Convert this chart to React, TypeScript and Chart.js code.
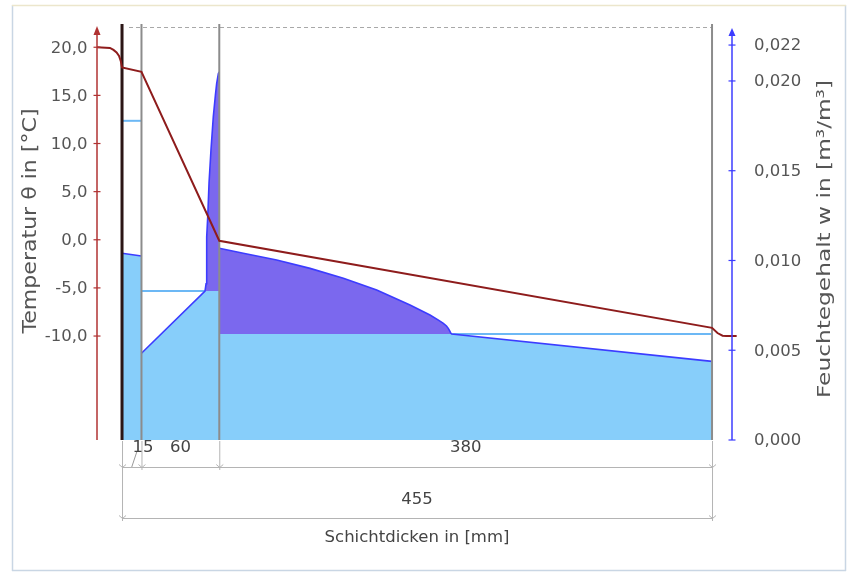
import React, { useEffect, useRef } from "react";
import { Chart, registerables } from "chart.js";

Chart.register(...registerables);

// ---------- Data ----------
// Layer boundaries in mm (foil at 0 mm, then 15 mm, 60 mm, 380 mm)
const layerBounds = [0, 15, 75, 455];
const layerThickness = ["15", "60", "380"];
const totalThickness = "455";

const xMin = -19.3;
const xMax = 470.4;
const tempMin = -20.8;
const tempMax = 22.0;
const wMin = 0;
const wMax = 0.02295;

const tempTicks = [20, 15, 10, 5, 0, -5, -10];
const moistTicks = [0.022, 0.02, 0.015, 0.01, 0.005, 0];

// Temperature profile θ [°C]
const tempX = [-19.3, -9.3, -6.6, -4.2, -2.3, -1.0, 0, 15, 75, 455, 459.2, 463.1, 466, 474];
const tempY = [20.0, 19.93, 19.72, 19.46, 19.1, 18.58, 17.9, 17.45, -0.1, -9.15, -9.69, -9.97, -10.0, -10.0];

// Moisture content w [m³/m³] per layer, with the critical level of each layer
const wL1X = [0, 15];
const wL1 = [0.0104, 0.01025];
const critL1 = 0.01778;

const wL2X = [15, 64.0, 64.8, 65.3, 66.1, 67.1, 68.6, 70.4, 72.0, 73.0, 74.3, 75];
const wL2 = [0.00483, 0.0083, 0.0087, 0.0113, 0.01244, 0.01431, 0.01615, 0.01801, 0.0192, 0.01987, 0.02042, 0.0205];
const critL2 = 0.0083;

const wL3X = [75, 93.5, 119.3, 145, 170.7, 196.4, 222.1, 237.5, 244.0, 247.8, 250.2, 251.6, 252.8, 253.5, 254.3, 455];
const wL3 = [0.01068, 0.0104, 0.01003, 0.00956, 0.00901, 0.00835, 0.00752, 0.00696, 0.00668, 0.0065, 0.00635, 0.00622, 0.00607, 0.00596, 0.0059, 0.00438];
const critL3 = 0.0059;

// ---------- Helpers ----------
const pts = (xs: number[], ys: number[]) => xs.map((x, i) => ({ x, y: ys[i] }));
const lowPts = (xs: number[], ys: number[], c: number) => xs.map((x, i) => ({ x, y: Math.min(ys[i], c) }));
const wetPts = (xs: number[], ys: number[], c: number) =>
  xs.map((x, i) => ({ x, y: ys[i] })).filter((p) => p.y >= c - 1e-9);
// critical level drawn where the moisture stays at or below it
const critPts = (xs: number[], ys: number[], c: number) => {
  const dry = xs.filter((_, i) => ys[i] <= c + 1e-9);
  return [
    { x: dry[0], y: c },
    { x: dry[dry.length - 1] === xs[xs.length - 1] ? xs[xs.length - 1] : dry[dry.length - 1], y: c },
  ];
};

const FONT = "'DejaVu Sans', Verdana, sans-serif";
const LIGHT = "#87cefa";
const WET = "#7b68ee";
const BLUE = "#3c3cff";
const CRIT = "#6cb8f5";
const TRANSP = "rgba(0,0,0,0)";

function line(ctx: CanvasRenderingContext2D, x1: number, y1: number, x2: number, y2: number) {
  ctx.beginPath();
  ctx.moveTo(x1, y1);
  ctx.lineTo(x2, y2);
  ctx.stroke();
}

function rotatedFitted(
  ctx: CanvasRenderingContext2D,
  text: string,
  cx: number,
  cy: number,
  target: number,
  font: string,
  color: string
) {
  ctx.save();
  ctx.translate(cx, cy);
  ctx.rotate(-Math.PI / 2);
  ctx.font = font;
  ctx.fillStyle = color;
  ctx.textAlign = "center";
  ctx.textBaseline = "middle";
  const w = ctx.measureText(text).width;
  ctx.scale(target / w, 1);
  ctx.fillText(text, 0, 0);
  ctx.restore();
}

const overlay = {
  id: "overlay",
  beforeDraw(chart: any) {
    const ctx: CanvasRenderingContext2D = chart.ctx;
    ctx.save();
    ctx.fillStyle = "#ffffff";
    ctx.fillRect(0, 0, chart.width, chart.height);
    ctx.restore();
  },
  beforeDatasetDraw(chart: any, args: any) {
    if (args.index !== 0) return;
    const ctx: CanvasRenderingContext2D = chart.ctx;
    const { top, bottom } = chart.chartArea;
    const x = chart.scales.x;
    ctx.save();
    // dashed top line
    ctx.strokeStyle = "#a8a8a8";
    ctx.lineWidth = 1;
    ctx.setLineDash([4, 3]);
    line(ctx, x.getPixelForValue(layerBounds[0]) + 7, top - 0.5, x.getPixelForValue(layerBounds[layerBounds.length - 1]), top - 0.5);
    ctx.setLineDash([]);
    // layer boundaries
    layerBounds.forEach((b, i) => {
      const px = x.getPixelForValue(b);
      ctx.strokeStyle = i === 0 ? "#2b1616" : "#8c8c8c";
      ctx.lineWidth = i === 0 ? 3 : 2;
      line(ctx, px, top - 4, px, bottom);
    });
    ctx.restore();
  },
  afterDraw(chart: any) {
    const ctx: CanvasRenderingContext2D = chart.ctx;
    const { left, right, top, bottom } = chart.chartArea;
    const x = chart.scales.x;
    const y = chart.scales.y;
    const y2 = chart.scales.y2;
    ctx.save();

    // ---- left axis (temperature) ----
    const tc = "#b03232";
    ctx.strokeStyle = tc;
    ctx.fillStyle = tc;
    ctx.lineWidth = 1.5;
    line(ctx, left, bottom, left, top + 4);
    ctx.beginPath();
    ctx.moveTo(left, top - 2);
    ctx.lineTo(left - 3.5, top + 7);
    ctx.lineTo(left + 3.5, top + 7);
    ctx.closePath();
    ctx.fill();
    ctx.lineWidth = 1.2;
    ctx.font = `16.5px ${FONT}`;
    ctx.textBaseline = "middle";
    ctx.textAlign = "right";
    tempTicks.forEach((t) => {
      const py = y.getPixelForValue(t);
      ctx.strokeStyle = tc;
      line(ctx, left - 3.5, py, left + 3.5, py);
      ctx.fillStyle = "#555555";
      ctx.fillText(t.toFixed(1).replace(".", ","), left - 9.5, py + 1);
    });

    // ---- right axis (moisture) ----
    ctx.strokeStyle = BLUE;
    ctx.fillStyle = BLUE;
    ctx.lineWidth = 1.5;
    line(ctx, right, bottom, right, top + 4);
    ctx.beginPath();
    ctx.moveTo(right, top);
    ctx.lineTo(right - 3.5, top + 8);
    ctx.lineTo(right + 3.5, top + 8);
    ctx.closePath();
    ctx.fill();
    ctx.lineWidth = 1.2;
    ctx.textAlign = "left";
    moistTicks.forEach((t) => {
      const py = y2.getPixelForValue(t);
      ctx.strokeStyle = BLUE;
      line(ctx, right - 3.5, py, right + 3.5, py);
      ctx.fillStyle = "#555555";
      ctx.fillText(t.toFixed(3).replace(".", ","), right + 22, py + 1);
    });

    // ---- axis titles ----
    rotatedFitted(ctx, "Temperatur θ in [°C]", 31, 221, 225, `19px ${FONT}`, "#555555");
    rotatedFitted(ctx, "Feuchtegehalt w in [m³/m³]", 825, 239, 318, `18px ${FONT}`, "#555555");

    // ---- dimension lines ----
    const d1 = bottom + 27;
    const d2 = bottom + 78;
    const bx = layerBounds.map((b) => x.getPixelForValue(b));
    ctx.strokeStyle = "#b4b4b4";
    ctx.lineWidth = 1;
    bx.forEach((px, i) => {
      const end = i === 0 || i === bx.length - 1 ? d2 + 3 : d1 + 3;
      line(ctx, px + 0.5, bottom + 1, px + 0.5, end);
    });
    line(ctx, bx[0], d1 + 0.5, bx[bx.length - 1], d1 + 0.5);
    line(ctx, bx[0], d2 + 0.5, bx[bx.length - 1], d2 + 0.5);
    const marks = (py: number, xs: number[]) => {
      xs.forEach((px) => {
        line(ctx, px - 3, py - 2.5, px + 0.5, py + 0.5);
        line(ctx, px + 4, py - 2.5, px + 0.5, py + 0.5);
      });
    };
    marks(d1, bx);
    marks(d2, [bx[0], bx[bx.length - 1]]);

    ctx.fillStyle = "#444444";
    ctx.font = `16.5px ${FONT}`;
    ctx.textAlign = "center";
    ctx.textBaseline = "middle";
    layerThickness.forEach((lbl, i) => {
      const x0 = bx[i];
      const x1 = bx[i + 1];
      const w = ctx.measureText(lbl).width;
      let cx = (x0 + x1) / 2;
      if (x1 - x0 < w + 4) {
        const mid = (x0 + x1) / 2;
        ctx.strokeStyle = "#9a9a9a";
        line(ctx, mid, d1, mid + 5, d1 - 15);
        cx = x1 + 1.5;
      }
      ctx.fillText(lbl, cx, bottom + 8);
    });
    ctx.fillText(totalThickness, (bx[0] + bx[bx.length - 1]) / 2, bottom + 60);
    ctx.fillText("Schichtdicken in [mm]", (bx[0] + bx[bx.length - 1]) / 2, bottom + 98);

    // ---- frame ----
    ctx.lineWidth = 1.5;
    ctx.strokeStyle = "#c9d6e4";
    line(ctx, 12.5, 5, 12.5, 571);
    line(ctx, 12, 570.5, 846, 570.5);
    line(ctx, 845.5, 5, 845.5, 571);
    ctx.strokeStyle = "#ece6cc";
    line(ctx, 12, 5.5, 846, 5.5);

    ctx.restore();
  },
};

export default function App() {
  const ref = useRef<HTMLCanvasElement | null>(null);

  useEffect(() => {
    if (!ref.current) return;
    const common = { pointRadius: 0, tension: 0, yAxisID: "y2" };
    const chart = new Chart(ref.current, {
      type: "line",
      data: {
        datasets: [
          {
            label: "Temperatur",
            data: pts(tempX, tempY),
            yAxisID: "y",
            borderColor: "#8e1c1c",
            borderWidth: 2,
            pointRadius: 0,
            tension: 0,
            fill: false,
            clip: false,
            order: 0,
          } as any,
          // actual moisture lines
          { ...common, data: pts(wL1X, wL1), borderColor: BLUE, borderWidth: 1.6, fill: false, order: 1 },
          { ...common, data: pts(wL2X, wL2), borderColor: BLUE, borderWidth: 1.6, fill: false, order: 1 },
          { ...common, data: pts(wL3X, wL3), borderColor: BLUE, borderWidth: 1.6, fill: false, order: 1 },
          // critical moisture levels
          { ...common, data: critPts(wL1X, wL1, critL1), borderColor: CRIT, borderWidth: 2, fill: false, order: 2 },
          { ...common, data: critPts(wL2X, wL2, critL2), borderColor: CRIT, borderWidth: 2, fill: false, order: 2 },
          { ...common, data: critPts(wL3X, wL3, critL3), borderColor: CRIT, borderWidth: 2, fill: false, order: 2 },
          // above-critical (wet) areas
          { ...common, data: wetPts(wL2X, wL2, critL2), borderColor: TRANSP, borderWidth: 1, backgroundColor: WET, fill: { value: critL2 }, order: 3 },
          { ...common, data: wetPts(wL3X, wL3, critL3), borderColor: TRANSP, borderWidth: 1, backgroundColor: WET, fill: { value: critL3 }, order: 3 },
          // below-critical areas
          { ...common, data: lowPts(wL1X, wL1, critL1), borderColor: TRANSP, borderWidth: 1, backgroundColor: LIGHT, fill: "origin", order: 4 },
          { ...common, data: lowPts(wL2X, wL2, critL2), borderColor: TRANSP, borderWidth: 1, backgroundColor: LIGHT, fill: "origin", order: 4 },
          { ...common, data: lowPts(wL3X, wL3, critL3), borderColor: TRANSP, borderWidth: 1, backgroundColor: LIGHT, fill: "origin", order: 4 },
        ] as any,
      },
      options: {
        animation: false,
        responsive: false,
        maintainAspectRatio: false,
        events: [],
        layout: { padding: { left: 97, right: 115, top: 28, bottom: 132 } },
        plugins: { legend: { display: false }, tooltip: { enabled: false }, title: { display: false } },
        scales: {
          x: { type: "linear", min: xMin, max: xMax, display: false },
          y: { type: "linear", min: tempMin, max: tempMax, display: false },
          y2: { type: "linear", min: wMin, max: wMax, display: false },
        },
      },
      plugins: [overlay as any],
    });
    return () => chart.destroy();
  }, []);

  return (
    <div style={{ position: "absolute", left: 0, top: 0, width: 847, height: 572, background: "#fff" }}>
      <canvas ref={ref} width={847} height={572} style={{ display: "block", width: 847, height: 572 }} />
    </div>
  );
}
